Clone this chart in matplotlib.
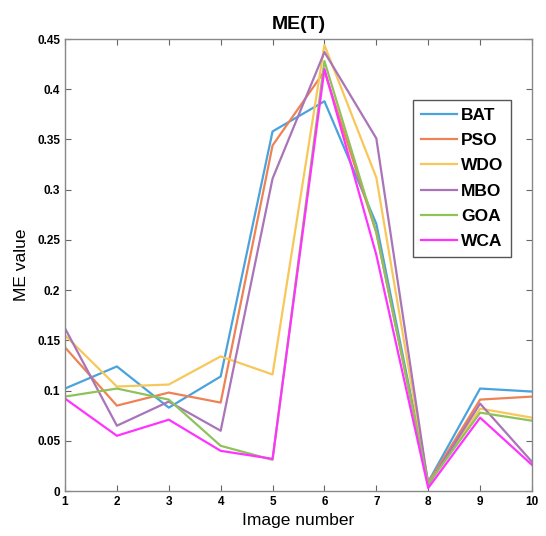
import numpy as np
import matplotlib
matplotlib.use("Agg")
import matplotlib.pyplot as plt

plt.rcParams['font.family'] = ['Liberation Sans', 'DejaVu Sans']

images = np.arange(1, 11)
names = ['BAT', 'PSO', 'WDO', 'MBO', 'GOA', 'WCA']
bat = [0.102, 0.124, 0.083, 0.114, 0.358, 0.388, 0.266, 0.009, 0.102, 0.099]
pso = [0.143, 0.085, 0.098, 0.088, 0.344, 0.418, 0.257, 0.008, 0.091, 0.094]
wdo = [0.155, 0.104, 0.106, 0.134, 0.116, 0.444, 0.312, 0.007, 0.082, 0.073]
mbo = [0.162, 0.065, 0.089, 0.060, 0.311, 0.437, 0.351, 0.006, 0.087, 0.029]
goa = [0.094, 0.102, 0.091, 0.045, 0.031, 0.428, 0.258, 0.007, 0.078, 0.070]
wca = [0.092, 0.055, 0.071, 0.040, 0.032, 0.420, 0.235, 0.003, 0.073, 0.026]
series = [bat, pso, wdo, mbo, goa, wca]
colors = ['#4aa3dc', '#ee8254', '#f8c75a', '#a974b8', '#8fc25a', '#ff33ff']

fig = plt.figure(figsize=(5.46, 5.36), dpi=100)
ax = fig.add_axes([65/546, 45/536, 467/546, 452/536])

for name, vals, c in zip(names, series, colors):
    ax.plot(images, vals, color=c, lw=1.6, label=name)

ax.set_xlim(1, 10)
ax.set_ylim(0, 0.45)
ax.set_xticks(images)
ax.set_yticks(np.arange(0, 0.451, 0.05))
ax.set_yticklabels(['0', '0.05', '0.1', '0.15', '0.2', '0.25', '0.3', '0.35', '0.4', '0.45'])
ax.tick_params(direction='in', top=True, right=True, labelsize=8.5, length=4,
               color='#666666', width=0.8)
for lab in ax.get_xticklabels() + ax.get_yticklabels():
    lab.set_fontweight('bold')
for s in ax.spines.values():
    s.set_color('#888888')
    s.set_linewidth(1.0)

ax.set_xlabel('Image number', fontsize=12.5, labelpad=4)
ax.set_ylabel('ME value', fontsize=12.5, labelpad=6)
ax.set_title('ME(T)', fontsize=14, fontweight='bold', pad=7)

leg = ax.legend(loc='upper right', bbox_to_anchor=(0.955, 0.865), fancybox=False,
                edgecolor='#555555', prop={'weight': 'bold', 'size': 12.5},
                handlelength=2.1, handletextpad=0.2, labelspacing=0.58,
                borderpad=0.45, borderaxespad=0, framealpha=1)
leg.get_frame().set_linewidth(1.0)

plt.savefig('out.png', dpi=100)
